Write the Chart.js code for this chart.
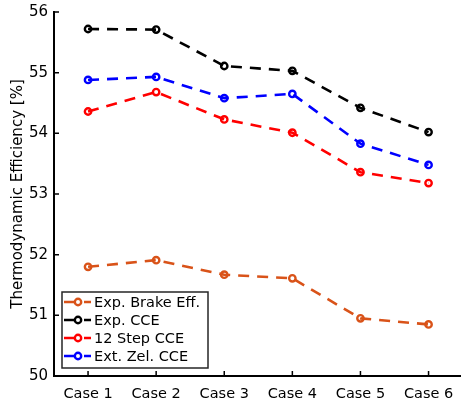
<!DOCTYPE html>
<html>
<head>
<meta charset="utf-8">
<script src="https://cdn.jsdelivr.net/npm/chart.js@4/dist/chart.umd.min.js"></script>
<style>
html,body{margin:0;padding:0;background:#fff;overflow:hidden;width:461px;height:401px;}
#wrap{position:absolute;left:0;top:0;width:469px;height:401px;}
</style>
</head>
<body>
<div id="wrap"><canvas id="c" width="469" height="401"></canvas></div>
<script>
const categories = ['Case 1','Case 2','Case 3','Case 4','Case 5','Case 6'];
const brakeEff   = [51.80, 51.91, 51.67, 51.61, 50.95, 50.85];
const expCCE     = [55.72, 55.71, 55.11, 55.03, 54.42, 54.02];
const step12CCE  = [54.36, 54.68, 54.23, 54.01, 53.36, 53.18];
const extZelCCE  = [54.88, 54.93, 54.58, 54.65, 53.83, 53.48];
const yTicks     = [50, 51, 52, 53, 54, 55, 56];
const seriesLabels = ['Exp. Brake Eff.', 'Exp. CCE', '12 Step CCE', 'Ext. Zel. CCE'];
const seriesColors = ['#D95319', '#000000', '#FF0000', '#0000FF'];
const yTitle = 'Thermodynamic Efficiency [%]';

const FONT = 'DejaVu Sans';

function ds(label, data, color){
  return {
    label, data,
    borderColor: color,
    backgroundColor: 'rgba(0,0,0,0)',
    borderWidth: 2.6,
    borderDash: [11, 8],
    borderCapStyle: 'butt',
    pointStyle: 'circle',
    pointRadius: 3.2,
    pointBorderWidth: 2.4,
    pointBorderColor: color,
    pointBackgroundColor: 'rgba(0,0,0,0)',
    tension: 0,
    fill: false
  };
}

const series = [brakeEff, expCCE, step12CCE, extZelCCE];

const inwardTicks = {
  id: 'inwardTicks',
  afterDatasetsDraw(chart){
    const ctx = chart.ctx;
    const x = chart.scales.x, y = chart.scales.y;
    const a = chart.chartArea;
    ctx.save();
    ctx.strokeStyle = '#000';
    ctx.lineWidth = 1.5;
    ctx.beginPath();
    categories.forEach((c,i)=>{
      const px = x.getPixelForValue(i);
      ctx.moveTo(px, a.bottom); ctx.lineTo(px, a.bottom - 5);
    });
    yTicks.forEach(v=>{
      const py = y.getPixelForValue(v);
      ctx.moveTo(a.left, py); ctx.lineTo(a.left + 5, py);
    });
    ctx.stroke();
    ctx.restore();
  },
  afterDraw(chart){
    const ctx = chart.ctx;
    const a = chart.chartArea;
    const bx = a.left + 8, by = a.bottom - 84, bw = 146, bh = 76;
    ctx.save();
    ctx.fillStyle = '#fff';
    ctx.fillRect(bx, by, bw, bh);
    ctx.strokeStyle = '#262626';
    ctx.lineWidth = 1.5;
    ctx.strokeRect(bx, by, bw, bh);
    ctx.font = '14.5px "' + FONT + '"';
    ctx.textBaseline = 'middle';
    ctx.textAlign = 'left';
    seriesLabels.forEach((lab,i)=>{
      const cy = by + 10 + i*18;
      const col = seriesColors[i];
      ctx.strokeStyle = col;
      ctx.lineWidth = 2.6;
      ctx.beginPath();
      ctx.moveTo(bx + 2, cy); ctx.lineTo(bx + 12, cy);
      ctx.moveTo(bx + 22, cy); ctx.lineTo(bx + 29, cy);
      ctx.stroke();
      ctx.lineWidth = 2.4;
      ctx.beginPath();
      ctx.arc(bx + 16, cy, 3.2, 0, Math.PI*2);
      ctx.stroke();
      ctx.fillStyle = '#000';
      ctx.fillText(lab, bx + 32, cy + 1);
    });
    ctx.restore();
  }
};

new Chart(document.getElementById('c'), {
  type: 'line',
  data: {
    labels: categories,
    datasets: series.map((s,i)=>ds(seriesLabels[i], s, seriesColors[i]))
  },
  options: {
    responsive: false,
    animation: false,
    devicePixelRatio: 1,
    layout: { padding: { top: 12, right: 0, left: 0, bottom: 0 } },
    plugins: { legend: { display: false }, tooltip: { enabled: false } },
    scales: {
      x: {
        type: 'category',
        offset: true,
        grid: { display: true, drawOnChartArea: false, drawTicks: false, color: 'rgba(0,0,0,0)' },
        border: { display: true, color: '#000', width: 2 },
        ticks: { color: '#000', padding: 10, font: { family: FONT, size: 14.5 }, maxRotation: 0, autoSkip: false },
        afterFit(s){ s.height = 25; s.paddingLeft = 0; s.paddingRight = 0; }
      },
      y: {
        min: 50, max: 56,
        grid: { display: true, drawOnChartArea: false, drawTicks: false, color: 'rgba(0,0,0,0)' },
        border: { display: true, color: '#000', width: 2 },
        afterBuildTicks(s){ s.ticks = yTicks.map(v=>({value:v})); },
        ticks: { color: '#000', padding: 6, font: { family: FONT, size: 15 } },
        title: { display: true, text: yTitle, color: '#000', font: { family: FONT, size: 15 }, padding: { top: 9, bottom: 0 } },
        afterFit(s){ s.width = 54; s.paddingTop = 0; s.paddingBottom = 0; }
      }
    }
  },
  plugins: [inwardTicks]
});
</script>
</body>
</html>
